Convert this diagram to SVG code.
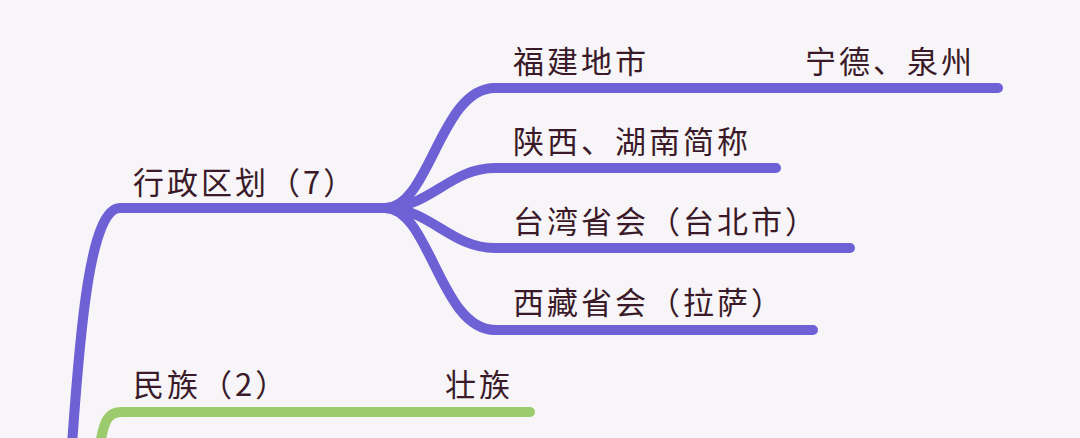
<svg xmlns="http://www.w3.org/2000/svg" width="1080" height="438" viewBox="0 0 1080 438">
<style>
.t{font-family:"Noto Sans CJK SC","Noto Sans",sans-serif;font-size:31px;letter-spacing:3px;fill:#3a1a28}
.p{fill:none;stroke:#6e61d5;stroke-width:10;stroke-linecap:round}
.g{fill:none;stroke:#9ccb6d;stroke-width:10;stroke-linecap:round}
</style>
<rect width="1080" height="438" fill="#f7f5f7"/>
<g id="connectors">
<path class="p" d="M72,445 C80,330 90,208 120,208 L385,208"/>
<path class="p" d="M385,208 C430,208 440,88 495,88 L998,88"/>
<path class="p" d="M385,208 C430,208 450,168 495,168 L776,168"/>
<path class="p" d="M385,208 C430,208 450,248 495,248 L850,248"/>
<path class="p" d="M385,208 C430,208 440,330 495,330 L813,330"/>
<path class="g" d="M100,445 C104,420 108,412 122,412 L530,412"/>
</g>
<g id="n1"><text class="t" x="133" y="194">行政区划（7）</text></g>
<g id="n2"><text class="t" x="513" y="73">福建地市</text></g>
<g id="n3"><text class="t" x="805" y="73">宁德、泉州</text></g>
<g id="n4"><text class="t" x="513" y="153">陕西、湖南简称</text></g>
<g id="n5"><text class="t" x="513" y="233">台湾省会（台北市）</text></g>
<g id="n6"><text class="t" x="513" y="314">西藏省会（拉萨）</text></g>
<g id="n7"><text class="t" x="133" y="396">民族（2）</text></g>
<g id="n8"><text class="t" x="445" y="396">壮族</text></g>
</svg>
